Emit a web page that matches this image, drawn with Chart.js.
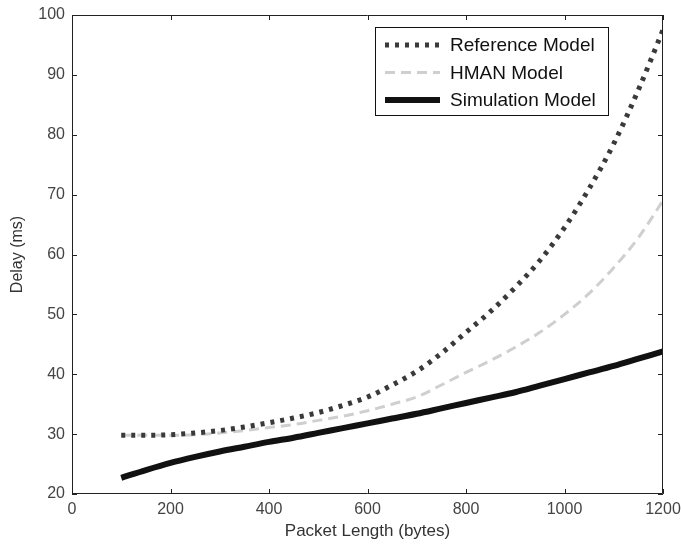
<!DOCTYPE html>
<html>
<head>
  <meta charset="UTF-8">
  <title>Delay vs Packet Length</title>
  <script src="https://cdn.jsdelivr.net/npm/chart.js@4/dist/chart.umd.min.js"></script>
  <style>
    html, body { margin: 0; padding: 0; background: #fff; }
    canvas { display: block; }
  </style>
</head>
<body>
  <canvas id="chartDelay" width="681" height="545"></canvas>

  <script>
    // data
    const packetLength = [100, 150, 200, 250, 300, 350, 400, 450, 500, 550, 600, 650,
                          700, 750, 800, 850, 900, 950, 1000, 1050, 1100, 1150, 1200];
    const referenceDelay = [29.8, 29.8, 29.9, 30.2, 30.6, 31.2, 31.9, 32.7, 33.6, 34.8, 36.2, 38.2,
                            40.5, 43.5, 47.0, 50.5, 54.5, 59.0, 64.5, 71.0, 78.5, 87.5, 97.5];
    const hmanDelay = [29.8, 29.8, 29.8, 29.9, 30.2, 30.6, 31.1, 31.6, 32.3, 33.0, 33.9, 35.0,
                       36.2, 38.2, 40.3, 42.3, 44.5, 47.0, 50.0, 53.5, 57.8, 62.8, 69.0];
    const simulationDelay = [22.7, 24.0, 25.2, 26.2, 27.1, 27.9, 28.7, 29.4, 30.2, 31.0, 31.8, 32.6,
                             33.4, 34.3, 35.2, 36.1, 37.0, 38.1, 39.2, 40.3, 41.4, 42.6, 43.8];
    const xTicks = [0, 200, 400, 600, 800, 1000, 1200];
    const yTicks = [20, 30, 40, 50, 60, 70, 80, 90, 100];

    const fontFamily = '"Liberation Sans", Arial, sans-serif';

    function toPoints(ys) {
      return packetLength.map((x, i) => ({ x: x, y: ys[i] }));
    }

    // matlab style box with inward ticks
    const boxTicks = {
      id: "boxTicks",
      afterDraw(chart) {
        const ctx = chart.ctx;
        const a = chart.chartArea;
        const sx = chart.scales.x, sy = chart.scales.y;
        ctx.save();
        ctx.strokeStyle = "#222";
        ctx.lineWidth = 1;
        ctx.beginPath();
        ctx.rect(a.left + 0.5, a.top + 0.5, a.right - a.left - 1, a.bottom - a.top - 1);
        const len = 5;
        xTicks.forEach(v => {
          const px = Math.round(sx.getPixelForValue(v)) + 0.5;
          ctx.moveTo(px, a.bottom); ctx.lineTo(px, a.bottom - len);
          ctx.moveTo(px, a.top); ctx.lineTo(px, a.top + len);
        });
        yTicks.forEach(v => {
          const py = Math.round(sy.getPixelForValue(v)) + 0.5;
          ctx.moveTo(a.left, py); ctx.lineTo(a.left + len, py);
          ctx.moveTo(a.right, py); ctx.lineTo(a.right - len, py);
        });
        ctx.stroke();
        ctx.restore();
      }
    };

    // boxed legend in the upper right
    const boxLegend = {
      id: "boxLegend",
      afterDraw(chart) {
        const ctx = chart.ctx;
        const a = chart.chartArea;
        const w = 233, h = 88;
        const left = a.right - 55 - w, top = a.top + 12;
        ctx.save();
        ctx.fillStyle = "#fff";
        ctx.fillRect(left, top, w, h);
        ctx.strokeStyle = "#111";
        ctx.lineWidth = 1;
        ctx.strokeRect(left + 0.5, top + 0.5, w, h);
        ctx.font = "19px " + fontFamily;
        ctx.textBaseline = "middle";
        chart.data.datasets.forEach((ds, i) => {
          const y = top + 18 + i * 27.5;
          ctx.save();
          ctx.strokeStyle = ds.borderColor;
          ctx.lineWidth = ds.borderWidth;
          ctx.setLineDash(ds.borderDash || []);
          ctx.beginPath();
          ctx.moveTo(left + 10, y);
          ctx.lineTo(left + 65, y);
          ctx.stroke();
          ctx.restore();
          ctx.fillStyle = "#111";
          ctx.fillText(ds.label, left + 75, y + 1);
        });
        ctx.restore();
      }
    };

    const chartDelay = new Chart(document.getElementById("chartDelay"), {
      type: "line",
      data: {
        datasets: [
          { label: "Reference Model", data: toPoints(referenceDelay), borderColor: "#3a3a3a",
            borderWidth: 5, borderDash: [4, 6], pointRadius: 0, cubicInterpolationMode: "monotone", order: 1 },
          { label: "HMAN Model", data: toPoints(hmanDelay), borderColor: "#cfcfcf",
            borderWidth: 3, borderDash: [10, 6], pointRadius: 0, cubicInterpolationMode: "monotone", order: 2 },
          { label: "Simulation Model", data: toPoints(simulationDelay), borderColor: "#111",
            borderWidth: 6, pointRadius: 0, cubicInterpolationMode: "monotone", order: 0 }
        ]
      },
      options: {
        responsive: false,
        animation: false,
        layout: { padding: { left: 0, right: 18, top: 15, bottom: 0 } },
        plugins: { legend: { display: false }, tooltip: { enabled: false } },
        scales: {
          x: {
            type: "linear", min: 0, max: 1200,
            afterFit: s => { s.height = 51; s.paddingLeft = 0; s.paddingRight = 0; },
            afterBuildTicks: s => { s.ticks = xTicks.map(v => ({ value: v })); },
            grid: { display: false, drawTicks: false },
            border: { display: false },
            ticks: { color: "#444", padding: 6, font: { family: fontFamily, size: 16 },
                     callback: v => String(v) },
            title: { display: true, text: "Packet Length (bytes)", color: "#333",
                     padding: { top: 0, bottom: 3 }, font: { family: fontFamily, size: 17 } }
          },
          y: {
            min: 20, max: 100,
            afterFit: s => { s.width = 72; s.paddingTop = 0; s.paddingBottom = 0; },
            afterBuildTicks: s => { s.ticks = yTicks.map(v => ({ value: v })); },
            grid: { display: false, drawTicks: false },
            border: { display: false },
            ticks: { color: "#444", padding: 7, font: { family: fontFamily, size: 16 },
                     callback: v => String(v) },
            title: { display: true, text: "Delay (ms)", color: "#333",
                     padding: { top: 8, bottom: 0 }, font: { family: fontFamily, size: 16 } }
          }
        }
      },
      plugins: [boxTicks, boxLegend]
    });
  </script>
</body>
</html>
